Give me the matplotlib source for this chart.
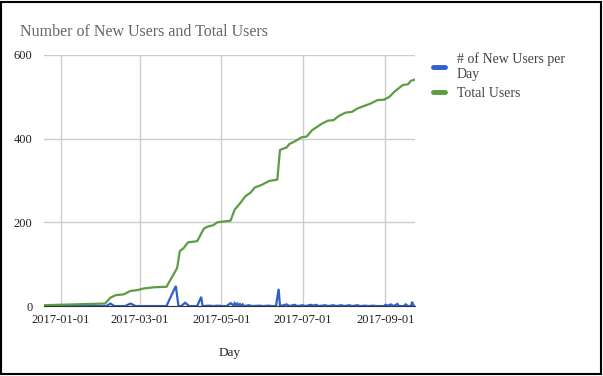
import matplotlib.pyplot as plt
import matplotlib.dates as mdates
import pandas as pd
from matplotlib.patches import Rectangle

plt.rcParams['font.family'] = ['Liberation Serif', 'DejaVu Serif']

# total users
total_dates = ["2016-12-19", "2017-02-03", "2017-02-07", "2017-02-11", "2017-02-17",
               "2017-02-22", "2017-02-27", "2017-03-04", "2017-03-12", "2017-03-21",
               "2017-03-29", "2017-03-31", "2017-04-03", "2017-04-06", "2017-04-13",
               "2017-04-18", "2017-04-21", "2017-04-25", "2017-04-28", "2017-05-08",
               "2017-05-11", "2017-05-15", "2017-05-19", "2017-05-23", "2017-05-26",
               "2017-05-31", "2017-06-06", "2017-06-12", "2017-06-14", "2017-06-19",
               "2017-06-21", "2017-06-26", "2017-06-30", "2017-07-04", "2017-07-08",
               "2017-07-15", "2017-07-20", "2017-07-24", "2017-07-28", "2017-08-02",
               "2017-08-07", "2017-08-11", "2017-08-16", "2017-08-21", "2017-08-26",
               "2017-08-31", "2017-09-04", "2017-09-08", "2017-09-14", "2017-09-18",
               "2017-09-20", "2017-09-23"]
total_users = [2, 6, 20, 26, 28,
               36, 38, 42, 45, 46,
               91, 131, 139, 152, 155,
               185, 190, 193, 200, 204,
               230, 245, 262, 271, 283,
               289, 299, 302, 373, 379,
               387, 395, 403, 405, 420,
               435, 443, 444, 454, 462,
               464, 472, 478, 484, 492,
               493, 500, 513, 528, 530,
               538, 541]

# new users per day
new_dates = ["2016-12-19", "2017-02-04", "2017-02-07", "2017-02-10", "2017-02-18",
             "2017-02-22", "2017-02-26", "2017-03-21", "2017-03-28", "2017-03-30",
             "2017-04-01", "2017-04-04", "2017-04-07", "2017-04-13", "2017-04-16",
             "2017-04-17", "2017-04-22", "2017-04-25", "2017-04-28", "2017-05-02",
             "2017-05-05", "2017-05-08", "2017-05-10", "2017-05-11", "2017-05-12",
             "2017-05-13", "2017-05-14", "2017-05-15", "2017-05-16", "2017-05-17",
             "2017-05-18", "2017-05-22", "2017-05-24", "2017-05-30", "2017-06-01",
             "2017-06-06", "2017-06-08", "2017-06-11", "2017-06-13", "2017-06-14",
             "2017-06-19", "2017-06-21", "2017-06-25", "2017-06-27", "2017-07-01",
             "2017-07-03", "2017-07-07", "2017-07-09", "2017-07-11", "2017-07-13",
             "2017-07-18", "2017-07-20", "2017-07-24", "2017-07-26", "2017-07-30",
             "2017-08-01", "2017-08-05", "2017-08-07", "2017-08-11", "2017-08-13",
             "2017-08-17", "2017-08-19", "2017-08-23", "2017-08-25", "2017-08-31",
             "2017-09-01", "2017-09-03", "2017-09-05", "2017-09-07", "2017-09-10",
             "2017-09-11", "2017-09-15", "2017-09-16", "2017-09-18", "2017-09-20",
             "2017-09-21", "2017-09-22", "2017-09-23"]
new_users = [0, 0, 6, 0, 0,
             6, 0, 0, 48, 0,
             0, 8, 0, 0, 22,
             0, 1, 0, 1, 0,
             0, 7, 2, 7, 2,
             6, 1, 5, 1, 4,
             0, 2, 0, 1, 0,
             1, 0, 0, 41, 0,
             4, 0, 3, 0, 2,
             0, 3, 1, 3, 0,
             2, 0, 2, 0, 2,
             0, 2, 0, 2, 0,
             1, 0, 1, 0, 0,
             3, 1, 4, 0, 5,
             0, 0, 4, 0, 0,
             10, 1, 0]

tick_dates = ["2017-01-01", "2017-03-01", "2017-05-01", "2017-07-01", "2017-09-01"]

fig = plt.figure(figsize=(6.03, 3.76), dpi=100)
ax = fig.add_axes([0.0723, 0.186, 0.6157, 0.668])

ax.plot(pd.to_datetime(new_dates), new_users, color='#3060c8', lw=1.6,
        label="# of New Users per\nDay", solid_joinstyle='miter')
ax.plot(pd.to_datetime(total_dates), total_users, color='#5c9c43', lw=1.6,
        label="Total Users")

ax.set_xlim(pd.Timestamp("2016-12-19"), pd.Timestamp("2017-09-23"))
ax.set_ylim(0, 600)
ax.set_yticks([0, 200, 400, 600])
ax.set_xticks(pd.to_datetime(tick_dates))
ax.xaxis.set_major_formatter(mdates.DateFormatter('%Y-%m-%d'))

ax.grid(True, color='#cccccc', lw=1)
ax.set_axisbelow(True)
for s in ['top', 'right', 'left']:
    ax.spines[s].set_visible(False)
ax.spines['bottom'].set_color('#333333')
ax.tick_params(length=0, labelsize=9, colors='#222222')
ax.tick_params(axis='x', pad=6)
ax.tick_params(axis='y', pad=8)

ax.set_xlabel("Day", fontsize=9.5, color='#222222', labelpad=15)
fig.text(0.033, 0.905, "Number of New Users and Total Users", fontsize=11.5,
         color='#666666')

leg = ax.legend(loc='upper left', bbox_to_anchor=(1.015, 1.06), frameon=False,
                fontsize=10, handlelength=0.9, handletextpad=0.8,
                labelspacing=0.45, labelcolor='#444444')
for h in leg.get_lines():
    h.set_linewidth(3.5)
    h.set_solid_capstyle('round')

fig.add_artist(Rectangle((0.002, 0.004), 0.994, 0.992, transform=fig.transFigure,
                         fill=False, edgecolor='black', lw=1.5))

fig.savefig("out.png", dpi=100)
